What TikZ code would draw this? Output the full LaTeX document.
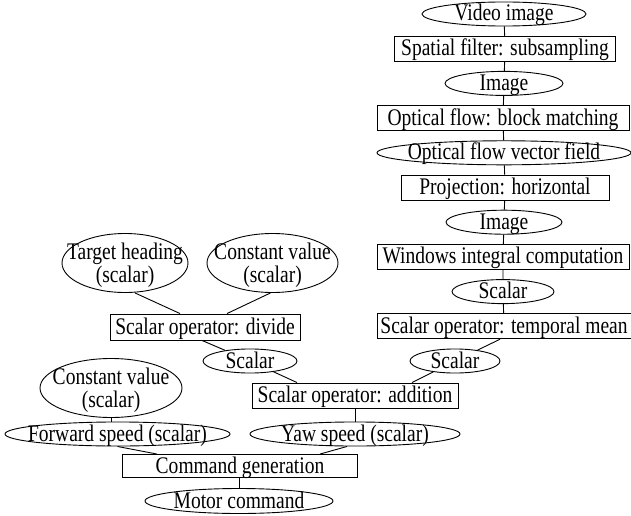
\documentclass[tikz,border=0pt]{standalone}
\usepackage{fontspec}
\setmainfont[FakeStretch=0.82]{Liberation Serif}
\usetikzlibrary{shapes.geometric}

\begin{document}
\begin{tikzpicture}[x=1pt, y=-1pt, line width=0.9pt,
    font=\fontsize{23.8}{22}\selectfont,
    box/.style={draw, rectangle, inner sep=0pt, minimum height=25pt, text height=16pt, text depth=2pt},
    oval/.style={draw, ellipse, inner sep=0pt, minimum height=24pt, text height=15.5pt, text depth=1.5pt,
        execute at begin node={\hbox to 0pt\bgroup\hss}, execute at end node={\hss\egroup}},
    bigoval/.style={oval, minimum height=59pt, text height=39pt, text depth=0pt}]
    \useasboundingbox (0,0) rectangle (631,516);

    % Image processing chain
    \node[oval, minimum width=164pt] (vid) at (504,14) {Video image};
    \node[box, minimum width=221pt] (spat) at (505,48.7) {Spatial filter: subsampling};
    \node[oval, minimum width=118pt] (img1) at (504,83.4) {Image};
    \node[box, minimum width=252pt] (flow) at (503,118.1) {Optical flow: block matching};
    \node[oval, minimum width=254pt] (field) at (504,152.8) {Optical flow vector field};
    \node[box, minimum width=208pt] (proj) at (505,187.5) {Projection: horizontal};
    \node[oval, minimum width=116pt] (img2) at (504,222.2) {Image};
    \node[box, minimum width=252pt] (wint) at (503,256.9) {Windows integral computation};
    \node[oval, minimum width=102pt] (sc1) at (503,291.6) {Scalar};
    \node[box, minimum width=254pt] (tmean) at (504,326.3) {Scalar operator: temporal mean};
    \node[oval, minimum width=90pt] (sc2) at (455,361) {Scalar};

    % Heading chain
    \node[bigoval, minimum width=126pt] (head) at (125,263) {\begin{tabular}[b]{@{}c@{}}Target heading\\(scalar)\end{tabular}};
    \node[bigoval, minimum width=131pt] (const1) at (272.5,263) {\begin{tabular}[b]{@{}c@{}}Constant value\\(scalar)\end{tabular}};
    \node[box, minimum width=190pt, minimum height=26pt] (div) at (205,327) {Scalar operator: divide};
    \node[oval, minimum width=94pt, minimum height=22pt] (sc3) at (250,361) {Scalar};

    % Command
    \node[bigoval, minimum width=142pt] (const2) at (111,388) {\begin{tabular}[b]{@{}c@{}}Constant value\\(scalar)\end{tabular}};
    \node[box, minimum width=206pt] (add) at (355,395.5) {Scalar operator: addition};
    \node[oval, minimum width=225pt, minimum height=22pt] (fwd) at (117.5,434) {Forward speed (scalar)};
    \node[oval, minimum width=210pt, minimum height=23pt] (yaw) at (355,434) {Yaw speed (scalar)};
    \node[box, minimum width=235pt, minimum height=23pt] (cmd) at (240,466) {Command generation};
    \node[oval, minimum width=188pt, minimum height=25pt] (motor) at (239,501) {Motor command};

    % Connections
    \draw (vid) -- (spat) -- (img1) -- (flow) -- (field) -- (proj) -- (img2) -- (wint) -- (sc1) -- (tmean);
    \draw ([xshift=-4pt]tmean.south) -- (sc2);
    \draw ([xshift=10pt]head.south) -- ([xshift=-25pt]div.north);
    \draw ([xshift=-2pt]const1.south) -- ([xshift=22pt]div.north);
    \draw ([xshift=-3pt]div.south) -- (sc3);
    \draw (sc3) -- ([xshift=-58pt]add.north);
    \draw (sc2) -- ([xshift=57pt]add.north);
    \draw (add) -- (yaw);
    \draw (const2.south) -- (const2.south |- fwd.north);
    \draw (fwd.south) -- ([xshift=-83pt]cmd.north);
    \draw ([xshift=-8pt]yaw.south) -- ([xshift=80pt]cmd.north);
    \draw (cmd.south -| motor) -- (motor);
\end{tikzpicture}
\end{document}
